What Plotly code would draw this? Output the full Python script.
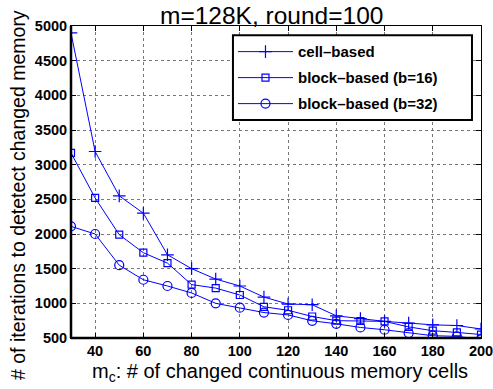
import plotly.graph_objects as go

mc = [30, 40, 50, 60, 70, 80, 90, 100, 110, 120, 130, 140, 150, 160, 170, 180, 190, 200]
cell_based = [4900, 3190, 2550, 2300, 1700, 1500, 1350, 1250, 1090, 990, 980, 820, 780, 740, 715, 690, 680, 630]
block_b16 = [3170, 2520, 1990, 1730, 1580, 1270, 1220, 1120, 950, 900, 810, 750, 745, 740, 660, 605, 580, 550]
block_b32 = [2110, 2000, 1550, 1340, 1250, 1150, 1000, 938, 867, 833, 748, 705, 652, 619, 571, 533, 524, 480]

x_ticks = [40, 60, 80, 100, 120, 140, 160, 180, 200]
y_ticks = [500, 1000, 1500, 2000, 2500, 3000, 3500, 4000, 4500, 5000]

title_text = "m=128K, round=100"
x_label = "m<sub>c</sub>: # of changed continuous memory cells"
y_label = "# of iterations to detetect changed memory"
series_names = ["cell\u2013based", "block\u2013based (b=16)", "block\u2013based (b=32)"]

BLUE = "#0000ff"
FONT = "Liberation Sans, Arial, Helvetica, sans-serif"
PAD = "\u00a0" * 7

fig = go.Figure()
fig.add_trace(go.Scatter(x=mc, y=cell_based, mode="lines+markers",
                         name="<b>" + series_names[0] + "</b>", legendgroup="a",
                         line=dict(color=BLUE, width=1),
                         marker=dict(symbol="cross-thin", size=9, line=dict(color=BLUE, width=1.2))))
fig.add_trace(go.Scatter(x=mc, y=block_b16, mode="lines+markers",
                         name="<b>" + series_names[1] + PAD + "</b>", legendgroup="b",
                         line=dict(color=BLUE, width=1),
                         marker=dict(symbol="square-open", size=7, color=BLUE, line=dict(width=1.2))))
fig.add_trace(go.Scatter(x=mc, y=block_b32, mode="lines+markers",
                         name="<b>" + series_names[2] + PAD + "</b>", legendgroup="c",
                         line=dict(color=BLUE, width=1),
                         marker=dict(symbol="circle-open", size=9, color=BLUE, line=dict(width=1.2))))

axis_common = dict(
    showgrid=True, gridcolor="#777777", griddash="dot", gridwidth=1,
    showline=True, linecolor="black", linewidth=1, mirror="allticks",
    ticks="inside", ticklen=5, tickcolor="black", tickwidth=1,
    zeroline=False, automargin=False, ticklabeloverflow="allow",
    tickfont=dict(family=FONT, size=14.5, color="black", weight="bold"),
)

fig.update_xaxes(range=[30, 200], tickvals=x_ticks, **axis_common)
fig.update_yaxes(range=[500, 5000], tickvals=y_ticks, **axis_common)

# thicker left/bottom axis frame (MATLAB style)
fig.add_shape(type="line", xref="paper", yref="paper", x0=0, x1=0, y0=0, y1=1,
              line=dict(color="black", width=2.5))
fig.add_shape(type="line", xref="paper", yref="paper", x0=0, x1=1, y0=0, y1=0,
              line=dict(color="black", width=2.5))
# legend box (drawn as a shape so its size matches the reference)
fig.add_shape(type="rect", xref="paper", yref="paper", x0=0.395, x1=0.978, y0=0.6985, y1=0.970,
              fillcolor="white", line=dict(color="black", width=2), layer="above")

# title
fig.add_annotation(text=title_text, xref="paper", yref="paper", x=0.488, y=1,
                   xanchor="center", yanchor="bottom", yshift=-5, showarrow=False,
                   font=dict(family=FONT, size=24.5, color="black"))
# x label
fig.add_annotation(text=x_label, xref="paper", yref="paper", x=0.51, y=0,
                   xanchor="center", yanchor="top", yshift=-20, showarrow=False,
                   font=dict(family=FONT, size=20, color="black"))
# y label
fig.add_annotation(text=y_label, xref="paper", yref="paper", x=0, y=0,
                   xanchor="center", yanchor="bottom", xshift=-53, yshift=-44,
                   textangle=-90, showarrow=False,
                   font=dict(family=FONT, size=19.5, color="black"))

fig.update_layout(
    width=493, height=389,
    margin=dict(l=71, r=12, t=26, b=51, autoexpand=False),
    paper_bgcolor="white", plot_bgcolor="white",
    legend=dict(x=0.978, y=0.97, xanchor="right", yanchor="top",
                bgcolor="rgba(0,0,0,0)", borderwidth=0,
                itemwidth=55, tracegroupgap=3.5,
                font=dict(family=FONT, size=15, color="black")),
    showlegend=True,
)

fig.write_html("out.html")
